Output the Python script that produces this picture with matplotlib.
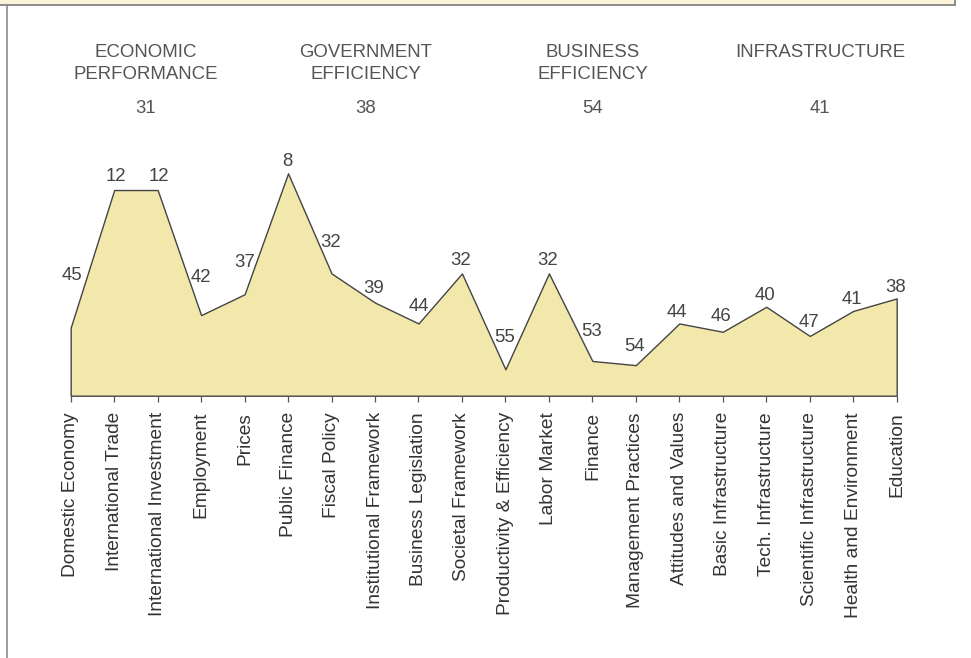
import matplotlib
matplotlib.use("Agg")
import matplotlib.pyplot as plt
from matplotlib.patches import Rectangle
from matplotlib.lines import Line2D

plt.rcParams['font.family'] = ['Liberation Sans', 'DejaVu Sans']

categories = ["Domestic Economy", "International Trade", "International Investment",
              "Employment", "Prices", "Public Finance", "Fiscal Policy",
              "Institutional Framework", "Business Legislation", "Societal Framework",
              "Productivity & Efficiency", "Labor Market", "Finance",
              "Management Practices", "Attitudes and Values", "Basic Infrastructure",
              "Tech. Infrastructure", "Scientific Infrastructure",
              "Health and Environment", "Education"]
ranks = [45, 12, 12, 42, 37, 8, 32, 39, 44, 32, 55, 32, 53, 54, 44, 46, 40, 47, 41, 38]

factor_names = ["ECONOMIC\nPERFORMANCE", "GOVERNMENT\nEFFICIENCY",
                "BUSINESS\nEFFICIENCY", "INFRASTRUCTURE"]
factor_ranks = [31, 38, 54, 41]

# label placement (pixels above the point, text centre)
label_up = [54, 16, 16, 40, 34, 14, 33, 16, 19, 15, 34, 15, 32, 21, 13, 17, 13, 16, 14, 13]
label_dx = [1, 2, 1, 0, 0, -1, -1, -1, 0, -1, -1, -1, -1, -1, -2, -2, -1, -1, -1, -1]
factor_x_px = [145.5, 366, 592.5, 820]

W, H = 971, 658
fig = plt.figure(figsize=(W / 100, H / 100), dpi=100)

x0, x1 = 70.7, 896.7
ytop, ybot = 140.0, 395.7
ax = fig.add_axes([x0 / W, 1 - ybot / H, (x1 - x0) / W, (ybot - ytop) / H])
ymax = 61.33
x = list(range(len(categories)))
ax.fill_between(x, ranks, ymax, facecolor='#f3e8ac', edgecolor='#444444',
                linewidth=1.0, clip_on=False)
ax.set_xlim(0, len(categories) - 1)
ax.set_ylim(ymax, 0)
for s in ax.spines.values():
    s.set_visible(False)
ax.set_yticks([])
ax.set_xticks(x)
ax.set_xticklabels(categories, rotation=90, fontsize=13.8, color='#333333',
                   va='top', ha='center')
ax.tick_params(axis='x', length=4.3, width=0.9, color='#555555', pad=7.5)
ax.patch.set_alpha(0)

for i, r in enumerate(ranks):
    ax.annotate(str(r), (i, r), xytext=(label_dx[i], label_up[i] - 6.7),
                textcoords='offset pixels', ha='center', va='baseline',
                fontsize=13.4, color='#444444', annotation_clip=False)

for name, fr, px in zip(factor_names, factor_ranks, factor_x_px):
    fig.text(px / W, 1 - 44 / H, name, ha='center', va='top', fontsize=13.4,
             color='#555555', linespacing=1.35)
    fig.text(px / W, 1 - 112.6 / H, str(fr), ha='center', va='baseline',
             fontsize=13.4, color='#555555')

# top banner and left rule
fig.patches.append(Rectangle((0, 1 - 4.7 / H), 955 / W, 4.7 / H,
                             transform=fig.transFigure, facecolor='#fbf4d8',
                             edgecolor='none'))
fig.lines.append(Line2D([0, 955 / W], [1 - 4.7 / H, 1 - 4.7 / H],
                        transform=fig.transFigure, color='#8c8c8c', lw=1.4))
fig.lines.append(Line2D([955 / W, 955 / W], [1 - 4.7 / H, 1],
                        transform=fig.transFigure, color='#8c8c8c', lw=1.4))
fig.lines.append(Line2D([6.5 / W, 6.5 / W], [0, 1 - 4.7 / H],
                        transform=fig.transFigure, color='#8c8c8c', lw=1.2))

fig.savefig('out.png', dpi=100)
